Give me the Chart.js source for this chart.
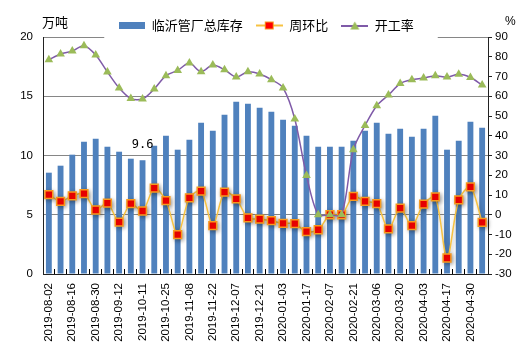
<!DOCTYPE html>
<html><head><meta charset="utf-8">
<script src="https://cdn.jsdelivr.net/npm/chart.js@4.4.0/dist/chart.umd.min.js"></script>
<style>html,body{margin:0;padding:0;background:#fff}#wrap{width:532px;height:356px;position:relative}</style>
</head><body><div id="wrap"><canvas id="c"></canvas></div>
<script>
const categories = ['2019-08-02','2019-08-09','2019-08-16','2019-08-23','2019-08-30','2019-09-06','2019-09-12','2019-09-27','2019-10-11','2019-10-18','2019-10-25','2019-11-01','2019-11-08','2019-11-15','2019-11-22','2019-11-29','2019-12-07','2019-12-13','2019-12-21','2019-12-27','2020-01-03','2020-01-10','2020-01-17','2020-01-23','2020-02-07','2020-02-14','2020-02-21','2020-02-28','2020-03-06','2020-03-13','2020-03-20','2020-03-27','2020-04-03','2020-04-10','2020-04-17','2020-04-24','2020-04-30','2020-05-08'];
const inventory = [8.55,9.14,10.07,11.17,11.42,10.74,10.32,9.73,9.6,10.83,11.67,10.49,11.33,12.77,12.09,13.44,14.54,14.37,14.03,13.70,13.02,12.51,11.67,10.74,10.74,10.74,11.25,12.09,12.77,11.84,12.26,11.59,12.26,13.36,10.49,11.25,12.85,12.35];
const weeklyChange = [10.2,6.8,9.6,10.7,2.4,5.9,-3.7,5.6,1.9,13.5,7.1,-10.1,8.6,12,-5.5,11.5,8,-1.6,-2.2,-3,-4.4,-4.5,-8.6,-7.6,0,0,9.3,6.8,5.6,-7.2,3.4,-5.5,5.4,9,-21.9,7.5,14.1,-3.9];
const operatingRate = [78.5,81.4,82.9,85.6,80.9,72.3,64.2,58.8,58.6,63.7,70.4,73.1,76.8,72.4,75.8,73.4,69.7,72.4,71.3,68.4,64.2,48.5,19.9,0,0,0,32.9,45.2,55.2,60.6,66.4,68.4,69.2,70.4,69.7,71.1,69.5,65.7];
const leftTicks = [0,5,10,15,20];
const rightTicks = [-30,-20,-10,0,10,20,30,40,50,60,70,80,90];
const seriesNames = ['临沂管厂总库存','周环比','开工率'];
const labeledBars = [8];
const leftUnit = '万吨';
const rightUnit = '%';

const BAR = '#4F81BD', WLINE = '#F7C242', WFILL = '#FF0000', WBORDER = '#F79A1E', OLINE = '#7F5AA8', OFILL = '#9BBB59';

function mkCanvas(w,h,draw){const c=document.createElement('canvas');c.width=w;c.height=h;draw(c.getContext('2d'));return c;}
const legBar = mkCanvas(26,7,g=>{g.fillStyle=BAR;g.fillRect(0,0,26,7);});
const legW = mkCanvas(27,9,g=>{g.strokeStyle=WLINE;g.lineWidth=2;g.beginPath();g.moveTo(0,4.5);g.lineTo(27,4.5);g.stroke();g.fillStyle=WFILL;g.fillRect(9.5,1,8,7);g.strokeStyle=WBORDER;g.lineWidth=1;g.strokeRect(9.5,1,8,7);});
const legO = mkCanvas(27,9,g=>{g.strokeStyle=OLINE;g.lineWidth=2;g.beginPath();g.moveTo(0,5);g.lineTo(27,5);g.stroke();g.fillStyle=OFILL;g.beginPath();g.moveTo(13.5,0.5);g.lineTo(18,8.5);g.lineTo(9,8.5);g.closePath();g.fill();});

const legendFit = {id:'legendFit', beforeInit(chart){const lg=chart.legend;const orig=lg.fit;lg.fit=function(){orig.call(this);this.height=31;};}};
const extras = {id:'extras',
  beforeDatasetsDraw(chart){
    const ctx=chart.ctx, lg=chart.legend, ca=chart.chartArea;
    if(lg && lg.legendHitBoxes && lg.legendHitBoxes.length){
      const l=Math.min(...lg.legendHitBoxes.map(b=>b.left))-14;
      const r=Math.max(...lg.legendHitBoxes.map(b=>b.left+b.width))+24;
      ctx.save();ctx.fillStyle='#fff';ctx.fillRect(l,ca.top-2,r-l,4);ctx.restore();
    }
  },
  beforeDatasetDraw(chart,args){
    if(args.index===1){const c=chart.ctx;c.save();c.shadowColor='rgba(0,0,0,0.35)';c.shadowBlur=4;c.shadowOffsetX=1.5;c.shadowOffsetY=1.5;}
  },
  afterDatasetDraw(chart,args){ if(args.index===1){chart.ctx.restore();} },
  afterDraw(chart){
    const ctx=chart.ctx, ca=chart.chartArea;
    ctx.save();
    ctx.fillStyle='#000';ctx.textBaseline='middle';
    ctx.font='13px "Noto Sans CJK SC"';
    ctx.textAlign='left';ctx.fillText(leftUnit, ca.left-1, 22);
    ctx.font='12px "Liberation Sans"';
    ctx.fillText(rightUnit, ca.right+17, 22);
    const meta=chart.getDatasetMeta(0);
    ctx.font='12px "DejaVu Sans Mono"';ctx.textAlign='center';
    labeledBars.forEach(i=>{const el=meta.data[i];ctx.fillText(inventory[i].toFixed(1), el.x, el.y-15);});
    ctx.restore();
  }
};

const tickFont = {family:'"Liberation Sans"', size:11.5};
new Chart(document.getElementById('c'), {
  data:{labels:categories, datasets:[
    {type:'bar', label:seriesNames[0], data:inventory, backgroundColor:BAR, yAxisID:'y', order:2, barPercentage:0.5, categoryPercentage:1, pointStyle:legBar},
    {type:'line', label:seriesNames[1], data:weeklyChange, yAxisID:'y1', order:1, borderColor:WLINE, borderWidth:1.5, backgroundColor:WFILL, pointStyle:'rect', pointRadius:5.5, pointBorderColor:WBORDER, pointBorderWidth:1.5, pointBackgroundColor:WFILL, tension:0.3, legendStyle:legW},
    {type:'line', label:seriesNames[2], data:operatingRate, yAxisID:'y1', order:0, borderColor:OLINE, borderWidth:1.5, backgroundColor:OFILL, pointStyle:'triangle', pointRadius:5, pointBorderWidth:0, pointBackgroundColor:OFILL, tension:0.3, legendStyle:legO}
  ]},
  options:{
    responsive:true, maintainAspectRatio:false, animation:false, devicePixelRatio:1,
    layout:{padding:{top:6,left:0,right:0,bottom:0}},
    plugins:{
      tooltip:{enabled:false},
      legend:{position:'top', labels:{usePointStyle:true, pointStyleWidth:27, padding:13, color:'#000', font:{family:'"Noto Sans CJK SC"', size:13},
        generateLabels(chart){ const imgs=[legBar,legW,legO]; return chart.data.datasets.map((d,i)=>({text:d.label, pointStyle:imgs[i], fillStyle:'#fff', strokeStyle:'#fff', lineWidth:0, datasetIndex:i, hidden:false, fontColor:'#000'})); }}}
    },
    scales:{
      x:{type:'category', offset:true,
        grid:{offset:true, drawOnChartArea:false, drawTicks:true, tickLength:-5, color:'#000'},
        border:{color:'#222'},
        ticks:{autoSkip:false, minRotation:90, maxRotation:90, padding:14, color:'#000', font:tickFont, callback:(v,i)=> i%2===0 ? categories[i] : ''},
        afterFit:s=>{s.height=82;}},
      y:{position:'left', min:0, max:20,
        afterBuildTicks:s=>{s.ticks=leftTicks.map(v=>({value:v}));},
        grid:{color:'#868686', drawTicks:false}, border:{color:'#222'},
        ticks:{padding:10, color:'#000', font:tickFont},
        afterFit:s=>{s.width=43;}},
      y1:{position:'right', min:-30, max:90,
        afterBuildTicks:s=>{s.ticks=rightTicks.map(v=>({value:v}));},
        grid:{drawOnChartArea:false, drawTicks:true, tickLength:4, color:'#222'}, border:{color:'#222'},
        ticks:{padding:3, color:'#000', font:tickFont},
        afterFit:s=>{s.width=44;}}
    }
  },
  plugins:[legendFit, extras]
});
</script></body></html>
